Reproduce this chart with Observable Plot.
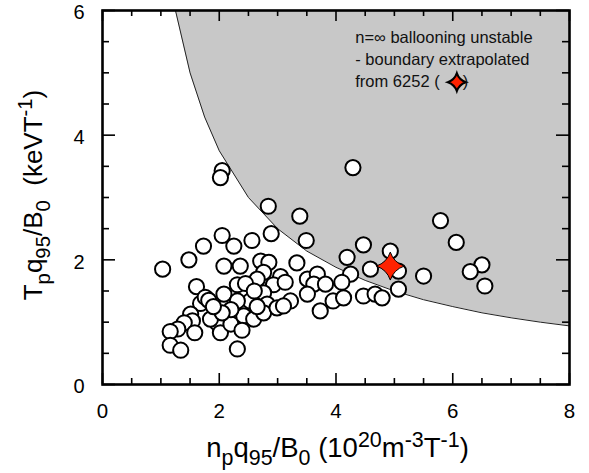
<!DOCTYPE html>
<html><head><meta charset="utf-8">
<script src="https://cdn.jsdelivr.net/npm/d3@7"></script>
<script src="https://cdn.jsdelivr.net/npm/@observablehq/plot@0.6"></script>
<style>
body{margin:0;background:#fff;}
svg{display:block;font-family:"Liberation Sans",Arial,sans-serif;}
</style>
</head><body><div id="chart"></div>
<script>
// shots: n_p q95/B0 (x) and T_p q95/B0 (y)
const shotN = [2.05,2.02,2.84,3.38,4.29,2.05,2.89,1.73,2.25,2.56,
  3.49,1.48,1.03,2.08,2.36,2.71,2.85,3.33,2.76,3.05,
  2.65,2.93,2.31,1.61,3.51,3.68,3.62,3.82,2.08,1.79,
  1.68,2.53,2.76,2.82,3.22,3.51,3.73,3.95,1.51,1.54,
  1.40,1.29,1.16,1.58,1.96,2.02,2.20,2.42,2.39,2.59,
  2.76,2.99,2.31,1.16,1.34,1.85,2.31,3.10,4.47,4.93,
  4.19,4.25,4.59,5.07,5.50,4.10,5.07,4.47,4.67,4.79,
  4.13,5.79,6.06,6.50,6.30,6.55,3.13,1.76,1.82,2.45,
  2.60,2.20,2.05,1.90,2.65];
const shotT = [3.43,3.32,2.86,2.70,3.48,2.39,2.42,2.22,2.22,2.31,
  2.31,2.00,1.85,1.90,1.90,1.98,1.96,1.95,1.80,1.73,
  1.69,1.60,1.60,1.57,1.69,1.77,1.61,1.61,1.45,1.37,
  1.30,1.34,1.47,1.29,1.34,1.45,1.18,1.34,1.13,1.02,
  0.99,0.89,0.85,0.83,0.99,0.83,0.97,1.10,0.87,1.05,
  1.15,1.23,0.57,0.63,0.55,1.05,1.34,1.26,2.24,2.14,
  2.04,1.77,1.85,1.82,1.74,1.64,1.53,1.42,1.45,1.39,
  1.39,2.63,2.28,1.92,1.81,1.58,1.64,1.40,1.35,1.62,
  1.50,1.20,1.15,1.25,1.25];
// extrapolated ballooning boundary
const boundaryN = [1.25,1.5,1.75,2.0,2.5,3.0,3.5,4.0,4.5,5.0,5.5,6.0,6.5,7.0,7.5,8.0];
const boundaryT = [6.0,5.0,4.29,3.75,3.0,2.5,2.14,1.88,1.67,1.5,1.36,1.25,1.15,1.07,1.0,0.94];
// shot 6252
const starN = [4.93];
const starT = [1.90];
const xTicks = [0,2,4,6,8];
const yTicks = [0,2,4,6];
const xMinor = [0.5,1,1.5,2.5,3,3.5,4.5,5,5.5,6.5,7,7.5];
const yMinor = [0.5,1,1.5,2.5,3,3.5,4.5,5,5.5];
const noteLines = ["n=\u221E ballooning unstable", "- boundary extrapolated", "from 6252 ("];

const xDomain = [0, 8], yDomain = [0, 6];
const shots = shotN.map((n, i) => ({n, T: shotT[i]}));
const boundary = boundaryN.map((n, i) => ({n, T: boundaryT[i]}));
const star = starN.map((n, i) => ({n, T: starT[i]}));

const W = 589, H = 473, mL = 102, mR = 20, mT = 10, mB = 89;
const PW = W - mL - mR, PH = H - mT - mB;
const red = "#ff2200";

const star4 = {draw(ctx, size) {
  const R = Math.sqrt(size / Math.PI), c = R * 0.25;
  ctx.moveTo(0, -R);
  ctx.quadraticCurveTo(c, -c, R, 0);
  ctx.quadraticCurveTo(c, c, 0, R);
  ctx.quadraticCurveTo(-c, c, -R, 0);
  ctx.quadraticCurveTo(-c, -c, 0, -R);
  ctx.closePath();
}};

const plot = Plot.plot({
  width: W, height: H,
  marginLeft: mL, marginRight: mR, marginTop: mT, marginBottom: mB,
  x: {domain: xDomain, axis: null},
  y: {domain: yDomain, axis: null},
  style: {fontFamily: '"Liberation Sans", Arial, sans-serif', background: "#fff", color: "#000"},
  marks: [
    Plot.areaY(boundary, {x: "n", y1: "T", y2: () => yDomain[1], fill: "#c8c8c8"}),
    Plot.line(boundary, {x: "n", y: "T", stroke: "#222", strokeWidth: 1}),
    Plot.dot(shots, {x: "n", y: "T", r: 7.6, fill: "white", stroke: "black", strokeWidth: 2}),
    Plot.dot(star, {x: "n", y: "T", r: 14, symbol: star4, fill: red, stroke: "black", strokeWidth: 1}),
    // annotation
    Plot.text(noteLines, {x: () => 4.33, y: (d, i) => 5.57 - i * 0.36, text: d => d,
      textAnchor: "start", fontSize: 16.5, fill: "#111"}),
    Plot.dot(star, {x: () => 6.07, y: () => 4.85, r: 9, symbol: star4, fill: red, stroke: "black", strokeWidth: 2}),
    Plot.text([")"], {x: () => 6.17, y: () => 4.85, text: d => d, textAnchor: "start", fontSize: 16.5, fill: "#111"}),
    // ticks (inward) on all sides
    Plot.tickX(xMinor, {x: d => d, insetTop: PH - 6, stroke: "black", strokeWidth: 1.6}),
    Plot.tickX(xMinor, {x: d => d, insetBottom: PH - 6, stroke: "black", strokeWidth: 1.6}),
    Plot.tickX(xTicks, {x: d => d, insetTop: PH - 11, stroke: "black", strokeWidth: 1.6}),
    Plot.tickX(xTicks, {x: d => d, insetBottom: PH - 11, stroke: "black", strokeWidth: 1.6}),
    Plot.tickY(yMinor, {y: d => d, insetRight: PW - 7, stroke: "black", strokeWidth: 1.6}),
    Plot.tickY(yMinor, {y: d => d, insetLeft: PW - 7, stroke: "black", strokeWidth: 1.6}),
    Plot.tickY(yTicks, {y: d => d, insetRight: PW - 13, stroke: "black", strokeWidth: 1.6}),
    Plot.tickY(yTicks, {y: d => d, insetLeft: PW - 13, stroke: "black", strokeWidth: 1.6}),
    Plot.frame({stroke: "black", strokeWidth: 2.6}),
    // tick labels
    Plot.text(xTicks, {x: d => d, text: d => String(d), frameAnchor: "bottom", dy: 33,
      lineAnchor: "bottom", fontSize: 20.5, fill: "#000"}),
    Plot.text(yTicks, {y: d => d, text: d => String(d), frameAnchor: "left", dx: -18, dy: 2.5,
      textAnchor: "end", fontSize: 20, fill: "#000"})
  ]
});

document.getElementById("chart").appendChild(plot);

// axis titles with sub/superscripts
const svg = d3.select(plot);
const xs = plot.scale("x"), ys = plot.scale("y");
function rich(sel, parts, fs) {
  let shift = 0;
  for (const [t, k] of parts) {
    const target = k === 1 ? fs * 0.3 : k === 2 ? -fs * 0.38 : 0;
    sel.append("tspan").attr("dy", target - shift)
      .style("font-size", (k ? fs * 0.78 : fs) + "px").text(t);
    shift = target;
  }
}
const xt = svg.append("text")
  .attr("x", xs.apply((xDomain[0] + xDomain[1]) / 2) + 2)
  .attr("y", ys.apply(yDomain[0]) + 73)
  .attr("text-anchor", "middle").attr("fill", "#000")
  .style("font-size", "27.5px");
rich(xt, [["n",0],["p",1],["q",0],["95",1],["/B",0],["0",1],[" (10",0],["20",2],["m",0],["-3",2],["T",0],["-1",2],[")",0]], 27.5);

const yt = svg.append("text")
  .attr("transform", `translate(${xs.apply(xDomain[0]) - 60},${ys.apply((yDomain[0] + yDomain[1]) / 2) - 2}) rotate(-90)`)
  .attr("text-anchor", "middle").attr("fill", "#000")
  .style("font-size", "26px");
rich(yt, [["T",0],["p",1],["q",0],["95",1],["/B",0],["0",1],["  (keVT",0],["-1",2],[")",0]], 26);
</script>
</body></html>
